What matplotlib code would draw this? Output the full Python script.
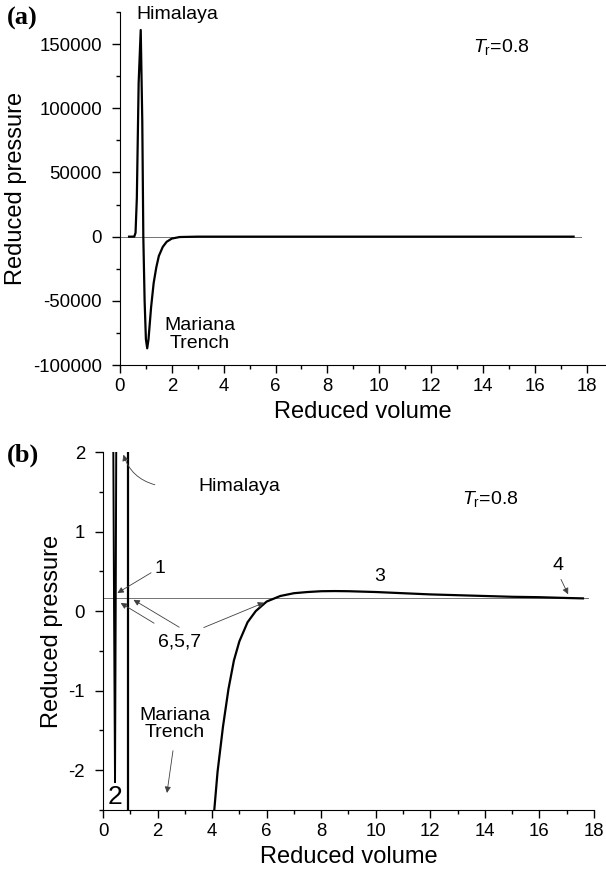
import matplotlib
matplotlib.use("Agg")
import matplotlib.pyplot as plt
from matplotlib.ticker import MultipleLocator

plt.rcParams['font.family'] = ['Liberation Sans', 'DejaVu Sans']
plt.rcParams['mathtext.fontset'] = 'custom'
plt.rcParams['mathtext.rm'] = 'Liberation Sans'
plt.rcParams['mathtext.it'] = 'Liberation Sans:italic'
plt.rcParams['axes.unicode_minus'] = False

# panel (a): whole isotherm
va = [0.35, 0.55, 0.60, 0.65, 0.72, 0.80, 0.86, 0.90, 0.95, 1.00, 1.05, 1.10,
      1.20, 1.30, 1.40, 1.50, 1.65, 1.80, 2.00, 2.30, 3.00, 17.5]
pa = [0, 0, 3000, 30000, 120000, 161000, 90000, 0, -50000, -80000, -87000,
      -80000, -55000, -36000, -24000, -15000, -8000, -4000, -1500, -300, 0, 0]

# panel (b): zoomed view, pieces of the same curve
vb_spike = [0.37, 0.405, 0.44, 0.465, 0.49]
pb_spike = [2.6, 0.0, -2.15, 0.0, 2.6]
vb_wall = [0.92, 0.92]
pb_wall = [2.6, -2.6]
vb_gas = [4.08, 4.2, 4.4, 4.6, 4.8, 5.0, 5.3, 5.6, 6.0, 6.5, 7.0, 7.5, 8.0,
          8.5, 9.0, 10, 11, 12, 13, 14, 15, 16, 17, 17.6]
pb_gas = [-2.5, -2.02, -1.45, -0.98, -0.62, -0.38, -0.14, 0.0, 0.12, 0.19, 0.225,
          0.24, 0.25, 0.252, 0.25, 0.24, 0.225, 0.21, 0.20, 0.19, 0.18, 0.175,
          0.165, 0.16]
p_sat = 0.16
v_line = [0, 17.8]

fig = plt.figure(figsize=(6.06, 8.77), dpi=100)
ax1 = fig.add_axes([0.198, 0.5838, 0.802, 0.4025])
ax2 = fig.add_axes([0.170, 0.0764, 0.810, 0.4082])

for ax in (ax1, ax2):
    ax.spines['top'].set_visible(False)
    ax.spines['right'].set_visible(False)
    ax.tick_params(which='major', length=6, width=1, labelsize=13.4, direction='out')
    ax.tick_params(axis='y', which='major', pad=7)
    ax.tick_params(which='minor', length=3, width=1, direction='out')
    ax.xaxis.set_major_locator(MultipleLocator(2))
    ax.xaxis.set_minor_locator(MultipleLocator(1))
    ax.set_xlabel('Reduced volume', fontsize=17)
    ax.set_ylabel('Reduced pressure', fontsize=17)

# (a)
ax1.plot(v_line, [p_sat, p_sat], color='0.45', lw=0.7)
ax1.plot(va, pa, color='k', lw=1.6)
ax1.set_xlim(0, 18.75)
ax1.set_ylim(-100000, 175000)
ax1.yaxis.set_major_locator(MultipleLocator(50000))
ax1.yaxis.set_minor_locator(MultipleLocator(25000))
ax1.text(2.23, 173000, 'Himalaya', fontsize=14, ha='center', va='center', clip_on=False)
ax1.text(3.08, -76000, 'Mariana\nTrench', fontsize=14, ha='center', va='center',
         linespacing=1.05)
ax1.text(13.6, 147600, r'$T_{\rm r}$=0.8', fontsize=14, ha='left', va='center')
fig.text(0.012, 0.979, '(a)', fontsize=19, fontweight='bold',
         family='Liberation Serif', ha='left', va='center')

# (b)
ax2.plot(v_line, [p_sat, p_sat], color='0.45', lw=0.7)
ax2.plot(vb_spike, pb_spike, color='k', lw=1.4)
ax2.plot(vb_wall, pb_wall, color='k', lw=1.6)
ax2.plot(vb_gas, pb_gas, color='k', lw=1.6)
ax2.set_xlim(0, 18)
ax2.set_ylim(-2.5, 2)
ax2.yaxis.set_major_locator(MultipleLocator(1))
ax2.yaxis.set_minor_locator(MultipleLocator(0.5))

arrow = dict(arrowstyle='-|>', color='0.25', lw=0.6, mutation_scale=9)
ax2.annotate('', xy=(0.72, 2.0), xytext=(2.0, 1.58),
             arrowprops=dict(arrow, connectionstyle='arc3,rad=-0.3'))
ax2.text(5.0, 1.57, 'Himalaya', fontsize=14, ha='center', va='center')
ax2.text(13.15, 1.41, r'$T_{\rm r}$=0.8', fontsize=14, ha='left', va='center')
ax2.annotate('', xy=(0.44, 0.21), xytext=(1.85, 0.5), arrowprops=arrow)
ax2.text(2.09, 0.54, '1', fontsize=14, ha='center', va='center')
ax2.text(2.82, -0.39, '6,5,7', fontsize=14, ha='center', va='center')
ax2.annotate('', xy=(0.56, 0.12), xytext=(1.96, -0.17), arrowprops=arrow)
ax2.annotate('', xy=(1.03, 0.16), xytext=(2.88, -0.22), arrowprops=arrow)
ax2.annotate('', xy=(6.0, 0.12), xytext=(3.6, -0.22), arrowprops=arrow)
ax2.text(10.15, 0.43, '3', fontsize=14, ha='center', va='center')
ax2.text(16.7, 0.57, '4', fontsize=14, ha='center', va='center')
ax2.annotate('', xy=(17.1, 0.18), xytext=(16.75, 0.43), arrowprops=arrow)
ax2.text(2.64, -1.42, 'Mariana\nTrench', fontsize=14, ha='center', va='center',
         linespacing=1.05)
ax2.annotate('', xy=(2.33, -2.32), xytext=(2.58, -1.72), arrowprops=arrow)
ax2.text(0.44, -2.34, '2', fontsize=19, ha='center', va='center')
fig.text(0.012, 0.481, '(b)', fontsize=19, fontweight='bold',
         family='Liberation Serif', ha='left', va='center')

fig.savefig('out.png', dpi=100)
